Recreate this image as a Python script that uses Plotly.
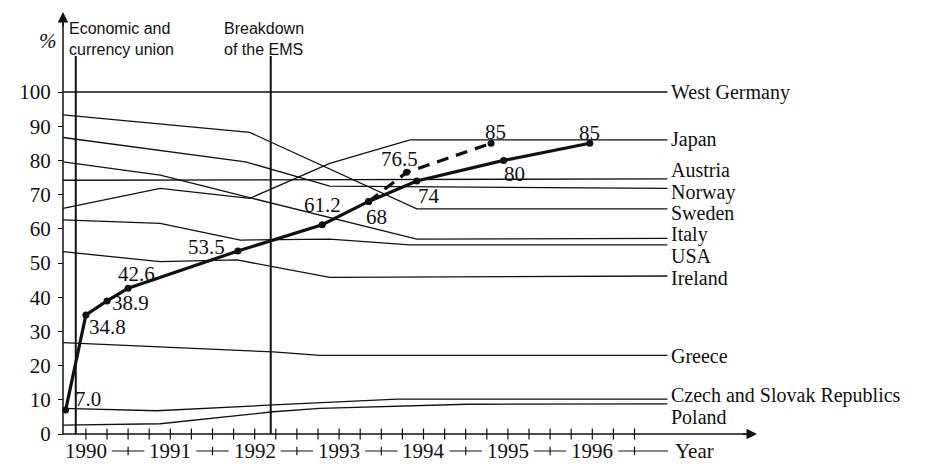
import plotly.graph_objects as go

# ---------------- data (time in fractional years, values in % of West German level) -------------
main_t = [1989.76, 1990.0, 1990.25, 1990.5, 1991.8, 1992.8, 1993.35, 1993.92, 1994.95, 1995.97]
main_v = [7.0, 34.8, 38.9, 42.6, 53.5, 61.2, 68, 74, 80, 85]
main_lbl = ["7.0", "34.8", "38.9", "42.6", "53.5", "61.2", "68", "74", "80", "85"]

alt_t = [1993.35, 1993.8, 1994.8]
alt_v = [68, 76.5, 85]
alt_lbl = ["", "76.5", "85"]

wg_t = [1989.73, 1996.89]
wg_v = [100, 100]
japan_t = [1989.73, 1990.88, 1991.94, 1992.89, 1993.84, 1996.89]
japan_v = [66, 71.8, 68.9, 79.1, 86, 86]
austria_t = [1989.73, 1996.89]
austria_v = [74.2, 74.6]
norway_t = [1989.73, 1991.89, 1992.89, 1996.89]
norway_v = [86.7, 79.6, 72.5, 71.8]
sweden_t = [1989.73, 1991.94, 1993.92, 1996.89]
sweden_v = [93.3, 88.2, 65.8, 65.8]
italy_t = [1989.73, 1990.88, 1991.94, 1993.92, 1996.89]
italy_v = [79.6, 75.7, 69.1, 57.0, 57.2]
usa_t = [1989.73, 1990.88, 1991.83, 1992.89, 1993.84, 1996.89]
usa_v = [62.6, 61.6, 56.7, 57.0, 55.3, 55.3]
ireland_t = [1989.73, 1990.88, 1991.79, 1992.89, 1996.89]
ireland_v = [53.3, 50.4, 50.9, 45.8, 46.2]
greece_t = [1989.73, 1992.22, 1992.77, 1996.89]
greece_v = [26.7, 24.0, 23.0, 23.0]
czech_t = [1989.73, 1990.84, 1992.22, 1992.77, 1993.69, 1996.89]
czech_v = [7.5, 6.8, 8.5, 9.2, 10.2, 10.2]
poland_t = [1989.73, 1990.88, 1992.22, 1992.77, 1994.52, 1996.89]
poland_v = [2.6, 3.0, 6.5, 7.5, 8.7, 8.8]

country_names = ["West Germany", "Japan", "Austria", "Norway", "Sweden", "Italy", "USA",
                 "Ireland", "Greece", "Czech and Slovak Republics", "Poland"]

event_t = [1989.88, 1992.19]
event_text = ["Economic and<br>currency union", "Breakdown<br>of the EMS"]

y_ticks = [0, 10, 20, 30, 40, 50, 60, 70, 80, 90, 100]
year_labels = [1990, 1991, 1992, 1993, 1994, 1995, 1996]
quarter_ticks = [1990 + 0.25 * i for i in range(27)]
half_marks = [1990.5 + i for i in range(7)]

# ---------------- layout constants (pixel calibration) ----------------
W, H = 940, 464
X0PIX, PX_YEAR = 85.9, 84.4      # x pixel of 1990, pixels per year
Y0PIX, PX_UNIT = 434.0, 3.42     # y pixel of 0 %, pixels per %


def t_at(px):
    return 1990 + (px - X0PIX) / PX_YEAR


def v_at(py):
    return (Y0PIX - py) / PX_UNIT


X_START, X_END = t_at(63), t_at(757)
Y_TOP = v_at(12)
EVENT_TOP = v_at(56)
YEAR_ROW = v_at(451)
DECO_END = t_at(668)
LABEL_GAP = 26 / PX_YEAR        # half label width + gap, in years

SERIF = "Liberation Serif"
SANS = "Liberation Sans"
INK = "#111111"
FS = 21
FS_NAMES = 20

fig = go.Figure()

country_series = [(wg_t, wg_v), (japan_t, japan_v), (austria_t, austria_v), (norway_t, norway_v),
                  (sweden_t, sweden_v), (italy_t, italy_v), (usa_t, usa_v), (ireland_t, ireland_v),
                  (greece_t, greece_v), (czech_t, czech_v), (poland_t, poland_v)]
label_yshift = [0, 0, 9, -4, -4.5, 3.5, -11, -1.5, -1, 4, -13]

for (tt, vv), name, ysh in zip(country_series, country_names, label_yshift):
    fig.add_trace(go.Scatter(x=tt, y=vv, mode="lines", line=dict(color=INK, width=1.3),
                             name=name, hoverinfo="skip"))
    fig.add_annotation(x=tt[-1], y=vv[-1], text=name, showarrow=False, xanchor="left",
                       yanchor="middle", xshift=3, yshift=ysh, borderpad=0,
                       font=dict(family=SERIF, size=FS_NAMES, color=INK))

# event lines
for et in event_t:
    fig.add_trace(go.Scatter(x=[et, et], y=[0, EVENT_TOP], mode="lines",
                             line=dict(color=INK, width=2), hoverinfo="skip"))
fig.add_annotation(x=event_t[0], y=v_at(18), text=event_text[0], showarrow=False,
                   xanchor="left", yanchor="top", xshift=-9, align="left",
                   font=dict(family=SANS, size=16, color=INK))
fig.add_annotation(x=event_t[1], y=v_at(18), text=event_text[1], showarrow=False,
                   xanchor="left", yanchor="top", xshift=-49, align="left",
                   font=dict(family=SANS, size=16, color=INK))

# dashed alternative forecast
fig.add_trace(go.Scatter(x=alt_t, y=alt_v, mode="lines+markers",
                         line=dict(color=INK, width=3.2, dash="12px,8px"),
                         marker=dict(size=7, color=INK), hoverinfo="skip"))
# main thick line
fig.add_trace(go.Scatter(x=main_t, y=main_v, mode="lines+markers",
                         line=dict(color=INK, width=3.2),
                         marker=dict(size=7, color=INK), hoverinfo="skip"))

main_off = [(22, 11), (22, -12), (23, -2.5), (8, 14), (-31, 4), (0, 20), (8, -16), (12, -15),
            (11, -14), (0, 10)]
for tt, vv, lb, (dx, dy) in zip(main_t, main_v, main_lbl, main_off):
    fig.add_annotation(x=tt, y=vv, text=lb, showarrow=False, xshift=dx, yshift=dy,
                       borderpad=0, font=dict(family=SERIF, size=FS, color=INK))
alt_off = [(0, 0), (-7, 13), (4, 11)]
for tt, vv, lb, (dx, dy) in zip(alt_t, alt_v, alt_lbl, alt_off):
    if lb:
        fig.add_annotation(x=tt, y=vv, text=lb, showarrow=False, xshift=dx, yshift=dy,
                           borderpad=0, font=dict(family=SERIF, size=FS, color=INK))

# axis lines (drawn as traces) with arrowheads
fig.add_trace(go.Scatter(x=[X_START, X_START], y=[0, Y_TOP - 3], mode="lines",
                         line=dict(color=INK, width=1.5), hoverinfo="skip"))
fig.add_trace(go.Scatter(x=[X_START, X_END - 0.1], y=[0, 0], mode="lines",
                         line=dict(color=INK, width=1.5), hoverinfo="skip"))
fig.add_annotation(x=X_START, y=Y_TOP, ax=0, ay=16, text="", showarrow=True, arrowhead=2,
                   arrowsize=1.4, arrowwidth=1.5, arrowcolor=INK)
fig.add_annotation(x=X_END, y=0, ax=-16, ay=0, text="", showarrow=True, arrowhead=2,
                   arrowsize=1.4, arrowwidth=1.5, arrowcolor=INK)

# quarter ticks crossing the x axis
fig.add_trace(go.Scatter(x=quarter_ticks, y=[0] * len(quarter_ticks), mode="markers",
                         marker=dict(symbol="line-ns", size=8, line=dict(color=INK, width=1.2)),
                         hoverinfo="skip"))

# year row decoration: dash segments between the year labels, with half-year marks
seg_x, seg_y = [], []
for i, yr in enumerate(year_labels):
    end = year_labels[i + 1] - LABEL_GAP if i + 1 < len(year_labels) else DECO_END
    seg_x += [yr + LABEL_GAP, end, None]
    seg_y += [YEAR_ROW, YEAR_ROW, None]
fig.add_trace(go.Scatter(x=seg_x, y=seg_y, mode="lines", connectgaps=False,
                         line=dict(color=INK, width=1.1), hoverinfo="skip"))
fig.add_trace(go.Scatter(x=half_marks, y=[YEAR_ROW] * len(half_marks), mode="markers",
                         marker=dict(symbol="line-ns", size=6, line=dict(color=INK, width=1.2)),
                         hoverinfo="skip"))
for yr in year_labels:
    fig.add_annotation(x=yr, y=YEAR_ROW, text=str(yr), showarrow=False, borderpad=0,
                       font=dict(family=SERIF, size=FS, color=INK))
fig.add_annotation(x=DECO_END, y=YEAR_ROW, text="Year", showarrow=False, xanchor="left",
                   xshift=6, borderpad=0, font=dict(family=SERIF, size=FS, color=INK))

fig.add_annotation(x=37 / W, y=1 - 27 / H, xref="paper", yref="paper", text="<i>%</i>",
                   showarrow=False, font=dict(family=SERIF, size=FS, color=INK))

fig.update_layout(
    width=W, height=H, margin=dict(l=0, r=0, t=0, b=0),
    paper_bgcolor="white", plot_bgcolor="white", showlegend=False, hovermode=False,
    xaxis=dict(domain=[0, 1], range=[t_at(0), t_at(W)], showgrid=False, zeroline=False,
               showline=False, showticklabels=False, ticks="", fixedrange=True),
    yaxis=dict(domain=[0, 1], range=[v_at(H), v_at(0)], anchor="free", position=63 / W,
               showgrid=False, zeroline=False, showline=False, tickmode="array",
               tickvals=y_ticks, ticks="outside", ticklen=5, tickwidth=1.3, tickcolor=INK,
               ticklabelstandoff=3, tickfont=dict(family=SERIF, size=FS, color=INK),
               fixedrange=True),
)

fig.write_html("out.html", config={"displayModeBar": False},
               post_script="document.body.style.margin='0';document.body.style.overflow='hidden';")
